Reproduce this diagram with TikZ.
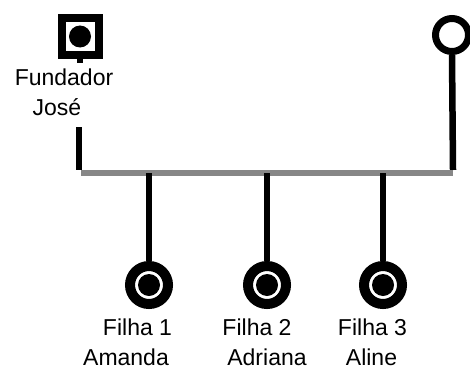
\documentclass[tikz,border=0pt]{standalone}
\usepackage{fontspec}
\setmainfont{Liberation Sans}

\tikzset{
	malebox/.style={draw, line width=8pt, minimum size=37pt, inner sep=0pt},
	femalering/.style={circle, draw, line width=10pt, minimum size=38pt, inner sep=0pt},
	spousering/.style={circle, draw, line width=7pt, minimum size=33pt, inner sep=0pt},
	dotmark/.style={circle, fill, minimum size=22pt, inner sep=0pt},
	kinline/.style={line width=6.5pt},
	unionline/.style={line width=6pt, color=black!47},
	lbl/.style={anchor=base, font=\fontsize{23}{28}\selectfont, inner sep=0pt}
}

\begin{document}
\begin{tikzpicture}[x=1pt, y=-1pt]
	\useasboundingbox (0,0) rectangle (470,369);

	% fundador e esposa
	\node [malebox] (fundador) at (80,36.5) {};
	\node [dotmark] (fdot) at (fundador.center) {};
	\node [spousering] (esposa) at (452,35) {};
	\coordinate (fstub) at (80,63);

	\node [lbl] (fnome1) at (64,85) {Fundador};
	\node [lbl] (fnome2) at (57,115) {José};

	% linha do casal
	\coordinate (ftop) at (79,127);
	\coordinate (uleft) at (79,173);
	\coordinate (uright) at (453,173);
	\draw [kinline] (fundador.south) -- (fstub);
	\draw [kinline] (ftop) -- ([yshift=3pt]uleft);
	\draw [kinline] (esposa.south) -- ([yshift=3pt]uright);
	\draw [unionline] ([xshift=2pt]uleft) -- (uright);

	% filhas
	\node [femalering] (filha1) at (149,285) {};
	\node [femalering] (filha2) at (267,285) {};
	\node [femalering] (filha3) at (383,285) {};
	\foreach \n in {1,2,3} {
		\node [dotmark] (dot\n) at (filha\n.center) {};
		\draw [kinline] (filha\n.north |- uleft) -- (filha\n.north);
	}

	\node [lbl] (f1a) at (137.5,335) {Filha 1};
	\node [lbl] (f1b) at (126,365) {Amanda};
	\node [lbl] (f2a) at (257,335) {Filha 2};
	\node [lbl] (f2b) at (267,365) {Adriana};
	\node [lbl] (f3a) at (372.5,335) {Filha 3};
	\node [lbl] (f3b) at (371.5,365) {Aline};
\end{tikzpicture}
\end{document}
